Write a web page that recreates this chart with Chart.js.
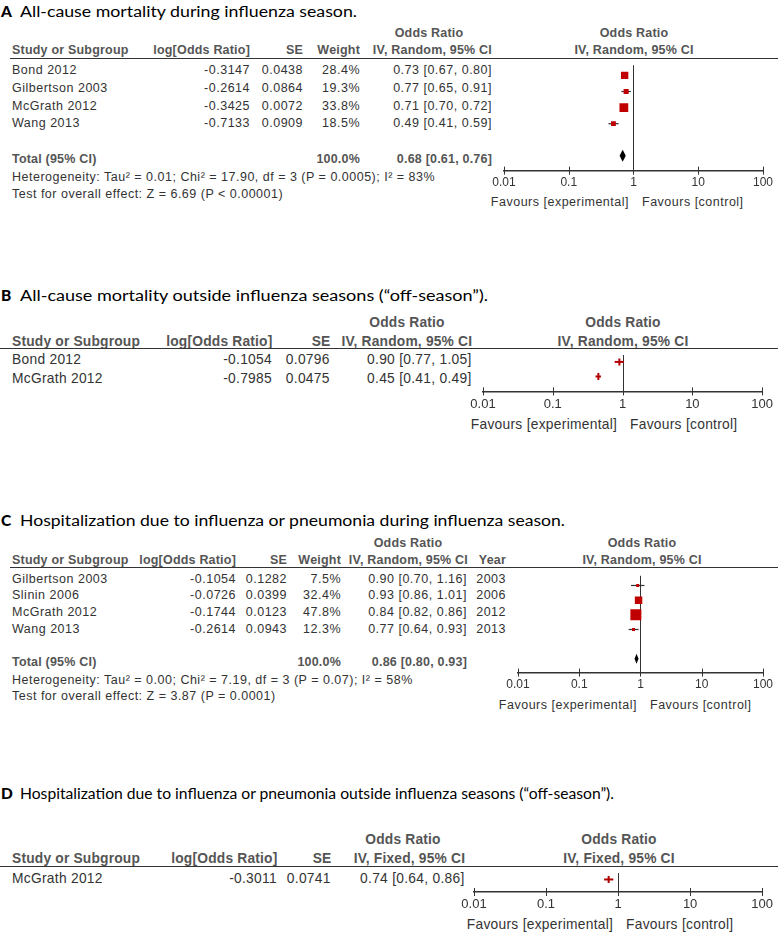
<!DOCTYPE html>
<html>
<head>
<meta charset="utf-8">
<script src="https://cdn.jsdelivr.net/npm/chart.js@4.4.1/dist/chart.umd.min.js"></script>
<style>
  html, body { margin: 0; padding: 0; background: #fff; }
  body { position: relative; width: 778px; height: 933px; overflow: hidden; }
  .t { position: absolute; white-space: nowrap; font-family: "Liberation Sans", Arial, sans-serif;
       font-size: 12.5px; letter-spacing: 0.5px; line-height: 1; color: #333; }
  .t.n { font-size: 15px; letter-spacing: 0.3px; }
  .t.h { font-weight: bold; color: #555; letter-spacing: 0.2px; }
  .ttl { position: absolute; white-space: nowrap; font-family: Lato, "Open Sans", sans-serif;
         font-size: 15.5px; line-height: 20px; color: #000; transform-origin: left center; }
  .ttl b { font-weight: 900; }
  .rule { position: absolute; height: 0; border-top: 1.5px solid #333; }
  canvas { position: absolute; }
</style>
</head>
<body>
<script>
// tick values shared by every odds ratio axis
const axisTicks = [0.01, 0.1, 1, 10, 100];

// A: all-cause mortality during influenza season
const studiesA = ['Bond 2012', 'Gilbertson 2003', 'McGrath 2012', 'Wang 2013'];
const logOrA = [-0.3147, -0.2614, -0.3425, -0.7133];
const seA = [0.0438, 0.0864, 0.0072, 0.0909];
const weightA = [28.4, 19.3, 33.8, 18.5];
const orA = [0.73, 0.77, 0.71, 0.49];
const loA = [0.67, 0.65, 0.70, 0.41];
const hiA = [0.80, 0.91, 0.72, 0.59];
const totalA = [0.68, 0.61, 0.76];
const hetA = 'Heterogeneity: Tau² = 0.01; Chi² = 17.90, df = 3 (P = 0.0005); I² = 83%';
const testA = 'Test for overall effect: Z = 6.69 (P < 0.00001)';

// B: all-cause mortality off-season
const studiesB = ['Bond 2012', 'McGrath 2012'];
const logOrB = [-0.1054, -0.7985];
const seB = [0.0796, 0.0475];
const orB = [0.90, 0.45];
const loB = [0.77, 0.41];
const hiB = [1.05, 0.49];

// C: hospitalization during influenza season
const studiesC = ['Gilbertson 2003', 'Slinin 2006', 'McGrath 2012', 'Wang 2013'];
const logOrC = [-0.1054, -0.0726, -0.1744, -0.2614];
const seC = [0.1282, 0.0399, 0.0123, 0.0943];
const weightC = [7.5, 32.4, 47.8, 12.3];
const orC = [0.90, 0.93, 0.84, 0.77];
const loC = [0.70, 0.86, 0.82, 0.64];
const hiC = [1.16, 1.01, 0.86, 0.93];
const yearC = [2003, 2006, 2012, 2013];
const totalC = [0.86, 0.80, 0.93];
const hetC = 'Heterogeneity: Tau² = 0.00; Chi² = 7.19, df = 3 (P = 0.07); I² = 58%';
const testC = 'Test for overall effect: Z = 3.87 (P = 0.0001)';

// D: hospitalization off-season
const studiesD = ['McGrath 2012'];
const logOrD = [-0.3011];
const seD = [0.0741];
const orD = [0.74];
const loD = [0.64];
const hiD = [0.86];

const ciText = (o, l, h) => `${o.toFixed(2)} [${l.toFixed(2)}, ${h.toFixed(2)}]`;

function txt(x, y, s, align, cls) {
  const d = document.createElement('div');
  d.className = 't ' + (cls || '');
  d.textContent = s;
  const narrow = (cls || '').includes('n');
  const fs = narrow ? 15 : 12.5;
  d.style.top = (y - fs * 0.5) + 'px';
  let tf = '';
  if (align === 'right') d.style.right = (778 - x) + 'px';
  else if (align === 'center') { d.style.left = x + 'px'; tf = 'translateX(-50%) '; }
  else d.style.left = x + 'px';
  if (narrow) {
    tf += 'scaleX(0.92)';
    d.style.transformOrigin = align === 'center' ? 'center' : (align || 'left');
  }
  d.style.transform = tf;
  document.body.appendChild(d);
}

function title(y, letter, s, right) {
  const l = document.createElement('div');
  l.className = 'ttl';
  l.innerHTML = '<b></b>';
  l.firstChild.textContent = letter;
  l.style.left = '1px';
  l.style.top = (y - 10) + 'px';
  document.body.appendChild(l);
  const d = document.createElement('div');
  d.className = 'ttl';
  d.textContent = s;
  d.style.left = '20px';
  d.style.top = (y - 10) + 'px';
  document.body.appendChild(d);
  const w = d.getBoundingClientRect().width;
  d.style.transform = `scaleX(${(right - 20) / w})`;
}

function rule(x1, y, x2) {
  const d = document.createElement('div');
  d.className = 'rule';
  d.style.left = x1 + 'px';
  d.style.width = (x2 - x1) + 'px';
  d.style.top = (y - 1) + 'px';
  document.body.appendChild(d);
}

const forestMarks = {
  id: 'forestMarks',
  beforeDatasetsDraw(chart, args, o) {
    const { ctx, chartArea: a, scales: { x, y } } = chart;
    ctx.save();
    const x1 = Math.round(x.getPixelForValue(1)) + 0.5;
    ctx.strokeStyle = '#333';
    ctx.lineWidth = 1;
    ctx.beginPath();
    ctx.moveTo(x1, a.top);
    ctx.lineTo(x1, a.bottom);
    ctx.stroke();
    ctx.strokeStyle = o.ciColor;
    ctx.lineWidth = o.ciWidth;
    o.lo.forEach((lo, i) => {
      const py = y.getPixelForValue(i);
      ctx.beginPath();
      ctx.moveTo(x.getPixelForValue(lo), py);
      ctx.lineTo(x.getPixelForValue(o.hi[i]), py);
      ctx.stroke();
    });
    if (o.total) {
      const [est, lo, hi] = o.total;
      const py = y.getPixelForValue(o.totalRow);
      ctx.fillStyle = '#000';
      ctx.beginPath();
      ctx.moveTo(x.getPixelForValue(lo), py);
      ctx.lineTo(x.getPixelForValue(est), py - o.dh);
      ctx.lineTo(x.getPixelForValue(hi), py);
      ctx.lineTo(x.getPixelForValue(est), py + o.dh);
      ctx.closePath();
      ctx.fill();
    }
    ctx.restore();
  },
  afterDraw(chart) {
    const { ctx, chartArea: a, scales: { x } } = chart;
    ctx.save();
    ctx.strokeStyle = '#333';
    ctx.lineWidth = 1;
    x.ticks.forEach(t => {
      const px = Math.round(x.getPixelForValue(t.value)) + 0.5;
      ctx.beginPath();
      ctx.moveTo(px, a.bottom - 4);
      ctx.lineTo(px, a.bottom + 4);
      ctx.stroke();
    });
    ctx.restore();
  }
};

function forest(p) {
  const cv = document.createElement('canvas');
  cv.width = p.w;
  cv.height = p.h;
  cv.style.left = p.left + 'px';
  cv.style.top = p.top + 'px';
  document.body.appendChild(cv);
  const square = !!p.sizes;
  new Chart(cv, {
    type: 'scatter',
    data: {
      datasets: [{
        data: p.or.map((v, i) => ({ x: v, y: i })),
        pointStyle: square ? 'rect' : 'line',
        rotation: square ? 0 : 90,
        pointRadius: square ? p.sizes.map(s => Math.max(s, 3) / Math.SQRT2) : 3.5,
        backgroundColor: '#c00000',
        borderColor: square ? '#c00000' : '#b00000',
        borderWidth: square ? 0 : 2
      }]
    },
    options: {
      responsive: false,
      animation: false,
      events: [],
      layout: { padding: { left: p.padL, right: p.padR, top: 0, bottom: 0 } },
      plugins: {
        legend: { display: false },
        tooltip: { enabled: false },
        forestMarks: {
          lo: p.lo, hi: p.hi,
          ciColor: square ? '#333' : '#b00000',
          ciWidth: square ? 1.2 : 2,
          total: p.total, totalRow: p.totalRow, dh: p.dh
        }
      },
      scales: {
        x: {
          type: 'logarithmic',
          min: 0.01,
          max: 100,
          afterBuildTicks: s => { s.ticks = axisTicks.map(v => ({ value: v })); },
          ticks: {
            callback: v => String(v),
            color: '#333',
            font: { family: 'Liberation Sans', size: p.tickSize },
            padding: 5,
            maxRotation: 0,
            autoSkip: false
          },
          grid: { display: false, drawTicks: false },
          border: { display: true, color: '#333', width: 1.5 }
        },
        y: { type: 'linear', display: false, reverse: true, min: p.yMin, max: p.yMax }
      }
    },
    plugins: [forestMarks]
  });
}

// ---------- Panel A ----------
title(10.5, 'A', 'All-cause mortality during influenza season.', 357);
txt(429, 33, 'Odds Ratio', 'center', 'h');
txt(634, 33, 'Odds Ratio', 'center', 'h');
txt(12, 50, 'Study or Subgroup', 'left', 'h');
txt(250, 50, 'log[Odds Ratio]', 'right', 'h');
txt(303, 50, 'SE', 'right', 'h');
txt(360, 50, 'Weight', 'right', 'h');
txt(492, 50, 'IV, Random, 95% CI', 'right', 'h');
txt(634, 50, 'IV, Random, 95% CI', 'center', 'h');
rule(10, 59, 778);
const a0 = 70.3, aP = 17.8;
studiesA.forEach((s, i) => {
  const y = a0 + aP * i;
  txt(12, y, s, 'left');
  txt(250, y, logOrA[i].toFixed(4), 'right');
  txt(303, y, seA[i].toFixed(4), 'right');
  txt(360, y, weightA[i].toFixed(1) + '%', 'right');
  txt(492, y, ciText(orA[i], loA[i], hiA[i]), 'right');
});
txt(12, a0 + aP * 5, 'Total (95% CI)', 'left', 'h');
txt(360, a0 + aP * 5, '100.0%', 'right', 'h');
txt(492, a0 + aP * 5, ciText(...totalA), 'right', 'h');
txt(12, 177, hetA, 'left');
txt(12, 194, testA, 'left');
txt(629, 202, 'Favours [experimental]', 'right', '');
txt(642, 202, 'Favours [control]', 'left', '');
forest({
  left: 470, top: 59, w: 308, h: 136, padL: 34, padR: 13, tickSize: 12,
  or: orA, lo: loA, hi: hiA, sizes: weightA.map(w => w * 0.26),
  total: totalA, totalRow: 5, dh: 6,
  yMin: (59 - a0) / aP, yMax: (175.6 - a0) / aP
});

// ---------- Panel B ----------
title(295, 'B', 'All-cause mortality outside influenza seasons (“off-season”).', 488);
txt(407, 321, 'Odds Ratio', 'center', 'h n');
txt(623, 321, 'Odds Ratio', 'center', 'h n');
txt(12, 340, 'Study or Subgroup', 'left', 'h n');
txt(272, 340, 'log[Odds Ratio]', 'right', 'h n');
txt(330, 340, 'SE', 'right', 'h n');
txt(472, 340, 'IV, Random, 95% CI', 'right', 'h n');
txt(623, 340, 'IV, Random, 95% CI', 'center', 'h n');
rule(0, 349, 778);
const b0 = 358, bP = 19;
studiesB.forEach((s, i) => {
  const y = b0 + bP * i;
  txt(12, y, s, 'left', 'n');
  txt(272, y, logOrB[i].toFixed(4), 'right', 'n');
  txt(330, y, seB[i].toFixed(4), 'right', 'n');
  txt(472, y, ciText(orB[i], loB[i], hiB[i]), 'right', 'n');
});
txt(617, 423, 'Favours [experimental]', 'right', 'n');
txt(630, 423, 'Favours [control]', 'left', 'n');
forest({
  left: 440, top: 349, w: 338, h: 68, padL: 43, padR: 14, tickSize: 13,
  or: orB, lo: loB, hi: hiB,
  yMin: (349 - b0) / bP, yMax: (396.4 - b0) / bP
});

// ---------- Panel C ----------
title(520, 'C', 'Hospitalization due to influenza or pneumonia during influenza season.', 565);
txt(408, 543, 'Odds Ratio', 'center', 'h');
txt(642, 543, 'Odds Ratio', 'center', 'h');
txt(12, 560, 'Study or Subgroup', 'left', 'h');
txt(236, 560, 'log[Odds Ratio]', 'right', 'h');
txt(287, 560, 'SE', 'right', 'h');
txt(341, 560, 'Weight', 'right', 'h');
txt(468, 560, 'IV, Random, 95% CI', 'right', 'h');
txt(506, 560, 'Year', 'right', 'h');
txt(642, 560, 'IV, Random, 95% CI', 'center', 'h');
rule(10, 568, 778);
const c0 = 579, cP = 16.6;
studiesC.forEach((s, i) => {
  const y = c0 + cP * i;
  txt(12, y, s, 'left');
  txt(236, y, logOrC[i].toFixed(4), 'right');
  txt(287, y, seC[i].toFixed(4), 'right');
  txt(341, y, weightC[i].toFixed(1) + '%', 'right');
  txt(467, y, ciText(orC[i], loC[i], hiC[i]), 'right');
  txt(506, y, String(yearC[i]), 'right');
});
txt(12, c0 + cP * 5, 'Total (95% CI)', 'left', 'h');
txt(341, c0 + cP * 5, '100.0%', 'right', 'h');
txt(467, c0 + cP * 5, ciText(...totalC), 'right', 'h');
txt(12, 680, hetC, 'left');
txt(12, 696, testC, 'left');
txt(637, 705, 'Favours [experimental]', 'right', '');
txt(650, 705, 'Favours [control]', 'left', '');
forest({
  left: 480, top: 568, w: 298, h: 129, padL: 38, padR: 11, tickSize: 12,
  or: orC, lo: loC, hi: hiC, sizes: weightC.map(w => w * 0.23),
  total: totalC, totalRow: 5, dh: 5,
  yMin: (568 - c0) / cP, yMax: (677.6 - c0) / cP
});

// ---------- Panel D ----------
title(793, 'D', 'Hospitalization due to influenza or pneumonia outside influenza seasons (“off-season”).', 614);
txt(403, 838, 'Odds Ratio', 'center', 'h n');
txt(619, 838, 'Odds Ratio', 'center', 'h n');
txt(12, 857, 'Study or Subgroup', 'left', 'h n');
txt(277, 857, 'log[Odds Ratio]', 'right', 'h n');
txt(331, 857, 'SE', 'right', 'h n');
txt(465, 857, 'IV, Fixed, 95% CI', 'right', 'h n');
txt(619, 857, 'IV, Fixed, 95% CI', 'center', 'h n');
rule(0, 867, 778);
const d0 = 877, dP = 19;
studiesD.forEach((s, i) => {
  const y = d0 + dP * i;
  txt(12, y, s, 'left', 'n');
  txt(277, y, logOrD[i].toFixed(4), 'right', 'n');
  txt(331, y, seD[i].toFixed(4), 'right', 'n');
  txt(465, y, ciText(orD[i], loD[i], hiD[i]), 'right', 'n');
});
txt(613, 923, 'Favours [experimental]', 'right', 'n');
txt(626, 923, 'Favours [control]', 'left', 'n');
forest({
  left: 430, top: 867, w: 348, h: 50, padL: 44, padR: 15, tickSize: 13,
  or: orD, lo: loD, hi: hiD,
  yMin: (867 - d0) / dP, yMax: (896.4 - d0) / dP
});
</script>
</body>
</html>
